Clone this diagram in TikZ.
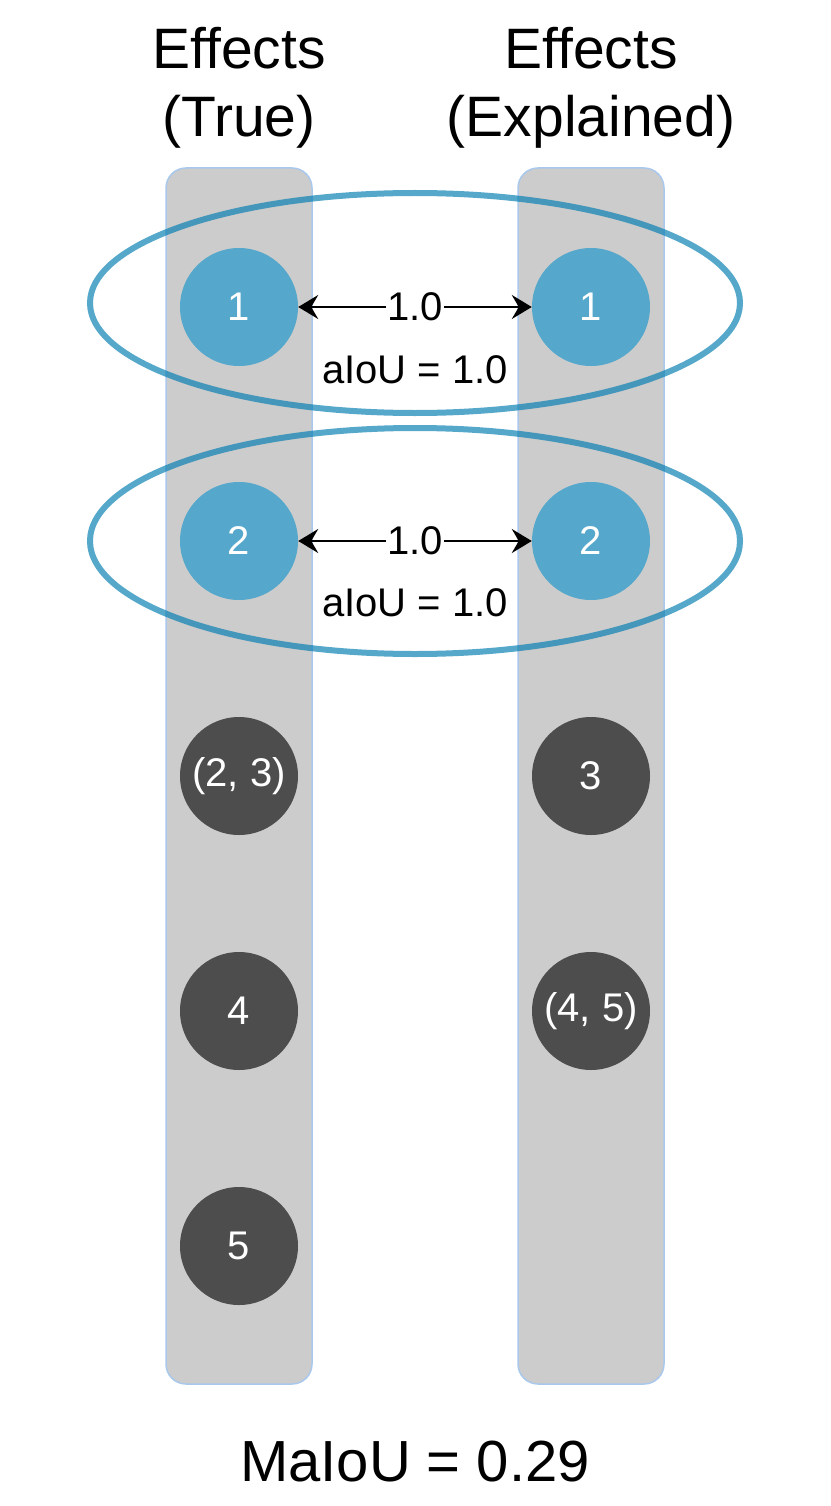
\documentclass[tikz,border=0pt]{standalone}
\usepackage{fontspec}
\setmainfont{Liberation Sans}
\usetikzlibrary{arrows.meta}
\definecolor{barfill}{HTML}{CCCCCC}
\definecolor{barline}{HTML}{A9C8EC}
\definecolor{blueC}{HTML}{55A8CB}
\definecolor{darkC}{HTML}{4D4D4D}
\definecolor{ringC}{RGB}{5,127,178}
\begin{document}
\begin{tikzpicture}[x=1pt,y=-1pt,
  bar/.style={draw=barline,line width=1.5pt,fill=barfill,rounded corners=20pt},
  hit/.style={circle,fill=blueC,minimum size=118pt,inner sep=0pt,text=white,font=\fontsize{40}{46}\selectfont},
  miss/.style={circle,fill=darkC,minimum size=118pt,inner sep=0pt,text=white,font=\fontsize{40}{46}\selectfont},
  ring/.style={draw=ringC,draw opacity=0.68,line width=6pt},
  title/.style={align=center,font=\fontsize{57}{68}\selectfont},
  lbl/.style={font=\fontsize{40}{46}\selectfont},
  link/.style={{Stealth[length=20pt,width=24pt,inset=7pt]}-{Stealth[length=20pt,width=24pt,inset=7pt]},line width=2pt}]
\useasboundingbox (0,0) rectangle (830,1506);
\fill[white] (0,0) rectangle (830,1506);
\draw[bar] (166,168) rectangle (312,1384);
\draw[bar] (518,168) rectangle (664,1384);
\node[title] (tl) at (239,88) {Effects\\(True)};
\node[title] (tr) at (591,88) {Effects\\(Explained)};
\node[hit] (l1) at (239,307) {1};
\node[hit] (r1) at (591,307) {1};
\node[hit] (l2) at (239,541) {2};
\node[hit] (r2) at (591,541) {2};
\node[miss] (l3) at (239,776) {(2, 3)};
\node[miss] (r3) at (591,776) {3};
\node[miss] (l4) at (239,1011) {4};
\node[miss] (r4) at (591,1011) {(4, 5)};
\node[miss] (l5) at (239,1246) {5};
\draw[ring] (415,303) ellipse [x radius=325, y radius=110];
\draw[ring] (415,541) ellipse [x radius=325, y radius=113];
\draw[link] (l1) -- node[lbl,fill=white,inner sep=1pt] (m1) {1.0} (r1);
\draw[link] (l2) -- node[lbl,fill=white,inner sep=1pt] (m2) {1.0} (r2);
\node[lbl] (a1) at (415,370) {aIoU = 1.0};
\node[lbl] (a2) at (415,603) {aIoU = 1.0};
\node[font=\fontsize{58}{66}\selectfont] (tot) at (415,1462) {MaIoU = 0.29};
\end{tikzpicture}
\end{document}
